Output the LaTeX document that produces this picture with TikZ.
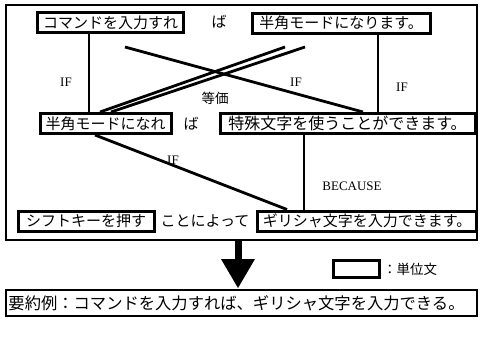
\documentclass[tikz,border=0pt]{standalone}
\usepackage{fontspec}
\newfontfamily\jp{Noto Sans CJK JP}
\setmainfont{Liberation Serif}
\begin{document}
\begin{tikzpicture}[x=1pt,y=-1pt,
  unit/.style={draw=black,line width=3pt,inner sep=0pt,minimum height=20pt,font=\jp\fontsize{15}{16}\selectfont},
  plain/.style={inner sep=0pt,font=\jp\fontsize{15}{16}\selectfont},
  lab/.style={inner sep=0pt,font=\fontsize{13}{14}\selectfont},
  vline/.style={line width=1.6pt},
  dline/.style={line width=2.8pt}]
\useasboundingbox (0,0) rectangle (482,338);
\node[draw,line width=1.4pt,minimum width=471pt,minimum height=235pt,inner sep=0pt] (frame) at (241.5,122.5) {};
% unit sentences
\node[unit,minimum width=146pt] (b1) at (110.5,22.5) {コマンドを入力すれ};
\node[plain] (ba1) at (219,22) {ば};
\node[unit,minimum width=178pt] (b2) at (341,23) {半角モードになります。};
\node[unit,minimum width=131pt] (b3) at (105.5,123.5) {半角モードになれ};
\node[plain] (ba2) at (191,124) {ば};
\node[unit,minimum width=255pt,font=\jp\fontsize{16}{17}\selectfont] (b4) at (347.5,123.5) {特殊文字を使うことができます。};
\node[unit,minimum width=136pt] (b5) at (86,221) {シフトキーを押す};
\node[plain] (koto) at (205,221) {ことによって};
\node[unit,minimum width=219pt] (b6) at (367,221) {ギリシャ文字を入力できます。};
% helper coordinates
\coordinate (v1) at (89,0);
\coordinate (v2) at (378,0);
\coordinate (v3) at (304,0);
\coordinate (cs) at (125,47);
\coordinate (ce) at (363,0);
\coordinate (da) at (285,47);
\coordinate (db) at (305,47);
\coordinate (dae) at (100,0);
\coordinate (dbe) at (111,0);
\coordinate (ls) at (95,0);
\coordinate (le) at (287,0);
% connectors
\draw[vline] (b1.south -| v1) -- (b3.north -| v1);
\draw[vline] (b2.south -| v2) -- (b4.north -| v2);
\draw[vline] (b4.south -| v3) -- (b6.north -| v3);
\draw[dline] (cs) -- (b4.north -| ce);
\draw[dline] (da) -- (b3.north -| dae);
\draw[dline] (db) -- (b3.north -| dbe);
\draw[dline] (b3.south -| ls) -- (b6.north -| le);
% labels
\node[lab] (if1) at (66,82) {IF};
\node[lab] (if2) at (296,82) {IF};
\node[lab] (if3) at (402,87) {IF};
\node[plain,font=\jp\fontsize{13.5}{14}\selectfont] (eq) at (215,98) {等価};
\node[lab] (if4) at (173,160) {IF};
\node[lab] (bec) at (352,186) {BECAUSE};
% arrow
\coordinate (atop) at (238,0);
\fill (frame.south -| atop) ++(-3.5,0) rectangle (241.5,261);
\coordinate (hl) at (221,259);
\coordinate (hr) at (255,259);
\coordinate (tip) at (238,288);
\fill (hl) -- (hr) -- (tip) -- cycle;
% legend
\node[draw,line width=3pt,minimum width=46pt,minimum height=17pt,inner sep=0pt] (leg) at (356.5,269) {};
\node[plain,anchor=west,font=\jp\fontsize{13.5}{14}\selectfont] (legt) at (383,269) {：単位文};
% summary
\node[draw,line width=1.4pt,minimum width=471pt,minimum height=26pt,inner sep=0pt] (sum) at (241.5,303) {};
\node[plain,anchor=west,font=\jp\fontsize{16.3}{17}\selectfont] (sumt) at ([xshift=3pt]sum.west) {要約例：コマンドを入力すれば、ギリシャ文字を入力できる。};
\end{tikzpicture}
\end{document}
